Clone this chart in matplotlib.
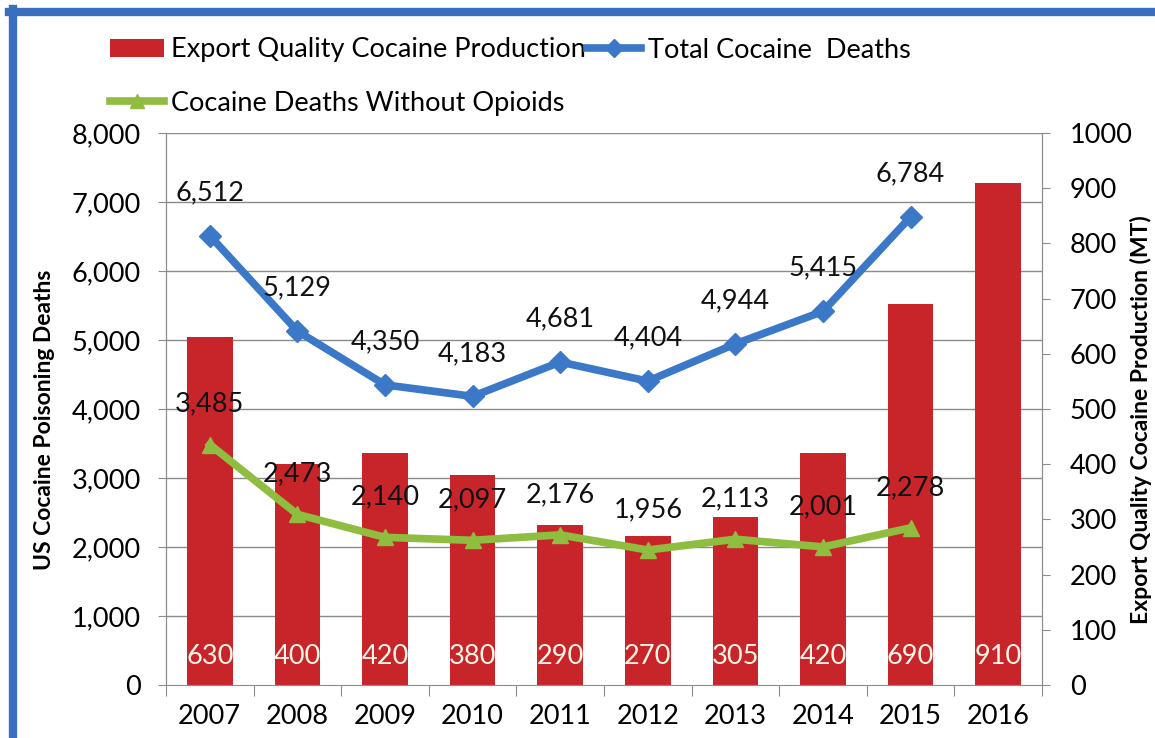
import matplotlib
matplotlib.use("Agg")
import matplotlib.pyplot as plt
from matplotlib.lines import Line2D
from matplotlib.patches import Patch

years = ["2007", "2008", "2009", "2010", "2011", "2012", "2013", "2014", "2015", "2016"]
production = [630, 400, 420, 380, 290, 270, 305, 420, 690, 910]
total_deaths = [6512, 5129, 4350, 4183, 4681, 4404, 4944, 5415, 6784]
deaths_no_opioids = [3485, 2473, 2140, 2097, 2176, 1956, 2113, 2001, 2278]

plt.rcParams['font.family'] = ['Lato', 'DejaVu Sans']

W, H = 1155, 738
fig = plt.figure(figsize=(W / 100, H / 100), dpi=100)
fig.patch.set_facecolor('white')

L, R, T, B = 166, 1042, 133, 685
ax = fig.add_axes([L / W, 1 - B / H, (R - L) / W, (B - T) / H])
ax2 = ax.twinx()

x = list(range(len(years)))
gray = '#8c8c8c'
red = '#c8252b'
blue = '#3b78c8'
green = '#8fbd3f'
FS = 19.5

# bars on secondary axis
ax2.bar(x, production, width=0.52, color=red, zorder=1)
for xi, v in zip(x, production):
    ax2.text(xi, 52, str(v), ha='center', va='center', color='#fff6e8', fontsize=FS)

ax2.set_ylim(0, 1000)
ax2.set_yticks(range(0, 1001, 100))
ax2.tick_params(axis='y', labelsize=FS, length=6, color=gray, pad=14)

# gridlines (below bars)
for gv in range(1000, 8001, 1000):
    ax2.axhline(gv / 8, color='#8a8a8a', linewidth=1.0, zorder=0)

# lines on primary axis (drawn above bars)
ax.set_zorder(ax2.get_zorder() + 1)
ax.patch.set_visible(False)
ax.set_ylim(0, 8000)
ax.set_xlim(-0.5, len(years) - 0.5)
ax.set_yticks(range(0, 8001, 1000))
ax.set_yticklabels([f"{v:,}" for v in range(0, 8001, 1000)])

xl = x[:len(total_deaths)]
ax.plot(xl, total_deaths, color=blue, linewidth=5.5, marker='D', markersize=11, zorder=3)
ax.plot(xl, deaths_no_opioids, color=green, linewidth=5.5, marker='^', markersize=12, zorder=3)
for xi, v in zip(xl, total_deaths):
    ax.annotate(f"{v:,}", (xi, v), xytext=(0, 31), textcoords='offset points',
                ha='center', va='center', fontsize=FS, color='#111111')
for xi, v in zip(xl, deaths_no_opioids):
    ax.annotate(f"{v:,}", (xi, v), xytext=(0, 29), textcoords='offset points',
                ha='center', va='center', fontsize=FS, color='#111111')

ax.set_xticks([i - 0.5 for i in range(len(years) + 1)], minor=False)
ax.set_xticklabels([''] * (len(years) + 1))
ax.set_xticks(x, minor=True)
ax.set_xticklabels(years, minor=True)
ax.tick_params(axis='x', which='major', length=8, color=gray, direction='out')
ax.tick_params(axis='x', which='minor', length=0, labelsize=FS, pad=14)
ax.tick_params(axis='y', labelsize=FS, length=6, color=gray, pad=12)

# axis titles
fig.text(45 / W, 1 - 420 / H, 'US Cocaine Poisoning Deaths', rotation=90, ha='center', va='center',
         fontsize=16.5, fontweight='bold')
fig.text(1141 / W, 1 - 420 / H, 'Export Quality Cocaine Production (MT)', rotation=90,
         ha='center', va='center', fontsize=16.5, fontweight='bold')

for a in (ax, ax2):
    a.spines['top'].set_visible(False)
    for s in ['left', 'right', 'bottom']:
        a.spines[s].set_color(gray)
ax2.spines['bottom'].set_visible(False)

# legend
handles = [
    Patch(facecolor=red, edgecolor='none'),
    Line2D([0], [0], color=blue, linewidth=5.5, marker='D', markersize=9),
    Line2D([0], [0], color=green, linewidth=5.5, marker='^', markersize=10),
]
labels = ['Export Quality Cocaine Production', 'Total Cocaine  Deaths', 'Cocaine Deaths Without Opioids']
fig.legend(handles[:2], labels[:2], loc='center left', bbox_to_anchor=(110 / W, 1 - 50 / H),
           ncol=2, frameon=False, fontsize=FS, handlelength=2.0, handleheight=0.6,
           handletextpad=0.25, columnspacing=0.05, borderaxespad=0, borderpad=0)
fig.legend(handles[2:], labels[2:], loc='center left', bbox_to_anchor=(110 / W, 1 - 103 / H),
           frameon=False, fontsize=FS, handlelength=2.0, handletextpad=0.25,
           borderaxespad=0, borderpad=0)

# blue frame
fig.add_artist(Line2D([9 / W, 1], [1 - 12 / H, 1 - 12 / H], color='#3a6fc0', linewidth=6,
                      transform=fig.transFigure))
fig.add_artist(Line2D([13 / W, 13 / W], [0, 1 - 9 / H], color='#3a6fc0', linewidth=6,
                      transform=fig.transFigure))

fig.savefig('out.png', dpi=100, facecolor='white')
